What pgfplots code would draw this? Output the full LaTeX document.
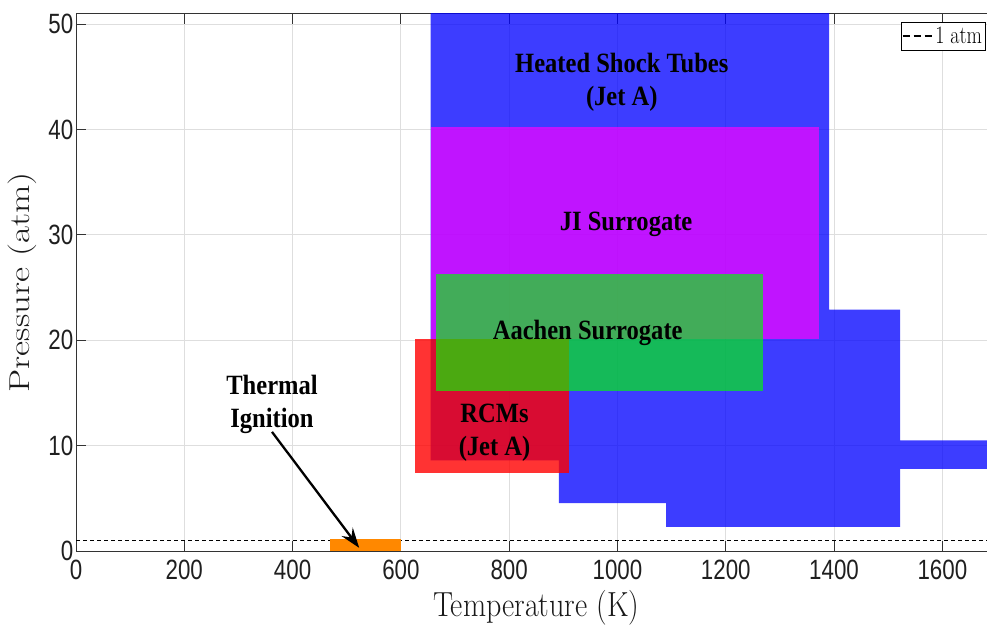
\documentclass[border=0pt]{standalone}
\usepackage{pgfplots}
\pgfplotsset{compat=1.18}
\usepackage{fontspec}
\usetikzlibrary{arrows.meta}
\newfontfamily\tickfont{Liberation Sans}
\newfontfamily\annfont{Liberation Serif}
\definecolor{shockblue}{RGB}{0,0,255}
\definecolor{jipurple}{RGB}{255,0,255}
\definecolor{rcmred}{RGB}{255,0,0}
\definecolor{aachgreen}{RGB}{0,255,0}
\definecolor{thermorange}{RGB}{255,136,0}
\begin{document}
\begin{tikzpicture}
\useasboundingbox (0,0) rectangle (987bp,625bp);
\begin{axis}[
  at={(76bp,74bp)}, anchor=south west,
  scale only axis, width=920.5bp, height=537.5bp,
  xmin=0, xmax=1700, ymin=0, ymax=51,
  xtick={0,200,...,1600}, ytick={0,10,...,50},
  grid=major, major grid style={black!13, line width=0.9bp},
  tick align=inside, major tick length=10bp,
  axis line style={black!80, line width=1bp},
  every tick/.style={black!80, line width=1bp},
  /pgf/number format/assume math mode=true,
  /pgf/number format/1000 sep={},
  tick label style={font=\tickfont\fontsize{28}{28}\selectfont, text=black!88, xscale=0.8},
  xticklabel style={yshift=-6bp},
  xlabel={Temperature (K)}, ylabel={Pressure (atm)},
  xlabel style={at={(axis description cs:0.5,-0.106)}, anchor=center, font=\fontsize{35}{35}\selectfont, xscale=0.86, text=black!90},
  ylabel style={at={(axis description cs:-0.0587,0.5)}, anchor=center, font=\fontsize{37}{37}\selectfont, yscale=0.78, text=black!90},
  legend style={at={(0.8957,0.985)}, anchor=north west, draw=black, line width=0.8bp, font=\fontsize{20}{20}\selectfont, inner xsep=1bp, inner ysep=3bp},
  legend cell align=left,
  legend image code/.code={\draw[black, line width=1.4bp, dash pattern=on 7bp off 4bp] (0bp,0bp) -- (30bp,0bp);},
]
% Heated shock tubes (Jet A)
\addplot[draw=none, fill=shockblue, fill opacity=0.76, forget plot] coordinates {(655,60) (1391,60) (1391,22.9) (1522,22.9) (1522,10.5) (1760,10.5) (1760,7.8) (1522,7.8) (1522,2.3) (1090,2.3) (1090,4.55) (892,4.55) (892,8.6) (655,8.6)} -- cycle;
% JI surrogate
\addplot[draw=none, fill=jipurple, fill opacity=0.68, forget plot] coordinates {(655,20.1) (1372,20.1) (1372,40.2) (655,40.2)} -- cycle;
% RCMs (Jet A)
\addplot[draw=none, fill=rcmred, fill opacity=0.8, forget plot] coordinates {(626,7.4) (910,7.4) (910,20.1) (626,20.1)} -- cycle;
% Aachen surrogate
\addplot[draw=none, fill=aachgreen, fill opacity=0.65, forget plot] coordinates {(665,15.2) (1269,15.2) (1269,26.3) (665,26.3)} -- cycle;
% 1 atm
\addplot[black, line width=1.6bp, dash pattern=on 4bp off 3bp] coordinates {(0,1) (1700,1)};
\addlegendentry{\scalebox{1}[1.25]{1 atm}}
% Thermal ignition
\addplot[draw=none, fill=thermorange, forget plot] coordinates {(470,0) (600,0) (600,1.1) (470,1.1)} -- cycle;

\node[font=\annfont\bfseries\fontsize{28}{33}\selectfont, xscale=0.88, align=center] at (axis cs:1008,44.5) {Heated Shock Tubes\\(Jet A)};
\node[font=\annfont\bfseries\fontsize{28}{33}\selectfont, xscale=0.88, align=center] at (axis cs:1016,31.0) {JI Surrogate};
\node[font=\annfont\bfseries\fontsize{28}{33}\selectfont, xscale=0.88, align=center] at (axis cs:945,20.7) {Aachen Surrogate};
\node[font=\annfont\bfseries\fontsize{28}{33}\selectfont, xscale=0.88, align=center] at (axis cs:773,11.2) {RCMs\\(Jet A)};
\node[font=\annfont\bfseries\fontsize{28}{33}\selectfont, xscale=0.88, align=center] at (axis cs:362,13.9) {Thermal\\Ignition};
\draw[black, line width=2.3bp, -{Stealth[length=20bp, width=14bp, inset=7bp]}] (axis cs:362,11.3) -- (axis cs:523,0.3);
\end{axis}
\end{tikzpicture}
\end{document}
